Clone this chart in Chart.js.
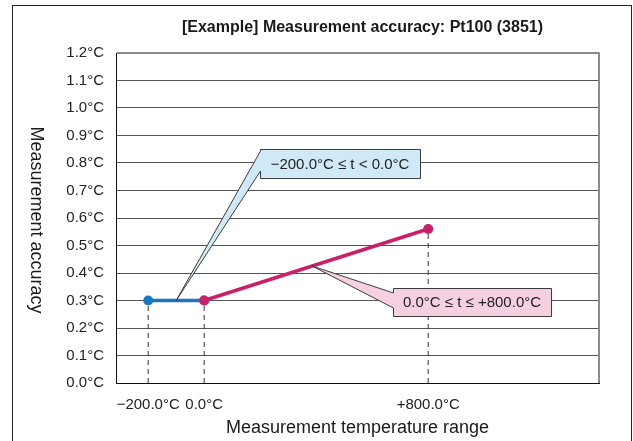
<!DOCTYPE html>
<html>
<head>
<meta charset="utf-8">
<script src="https://cdn.jsdelivr.net/npm/chart.js@4.4.0/dist/chart.umd.min.js"></script>
<style>
  html, body { margin: 0; padding: 0; background: #fff; }
  #wrap { position: relative; width: 633px; height: 441px; overflow: hidden; }
  #frame { position: absolute; left: 12px; top: 5px; width: 618px; height: 470px; border: 1px solid #222; }
  #accChart { position: absolute; left: 0; top: 0; }
</style>
</head>
<body>
<div id="wrap">
  <div id="frame"></div>
  <canvas id="accChart" width="633" height="441"></canvas>
</div>
<script>
// data
var tempTicks = [-200, 0, 800];
var tempLabels = ['\u2212200.0\u00b0C', '0.0\u00b0C', '+800.0\u00b0C'];
var accTicks = [0, 0.1, 0.2, 0.3, 0.4, 0.5, 0.6, 0.7, 0.8, 0.9, 1.0, 1.1, 1.2];

var lowTemp = [-200, 0];      // -200.0 <= t < 0.0
var lowAcc = [0.3, 0.3];
var highTemp = [0, 800];      // 0.0 <= t <= +800.0
var highAcc = [0.3, 0.56];

var FONT = '"Liberation Sans", Arial, Helvetica, sans-serif';
var BLUE = '#1c76bd';
var PINK = '#cc1f6a';

function toPoints(xs, ys) {
    var pts = [];
    for (var i = 0; i < xs.length; i++) pts.push({x: xs[i], y: ys[i]});
    return pts;
}

// dashed drop lines from every end point down to the axis
var dropX = lowTemp.slice(0, 1).concat(highTemp);
var dropY = lowAcc.slice(0, 1).concat(highAcc);
var dropSets = [];
for (var i = 0; i < dropX.length; i++) {
    dropSets.push({
        data: [{x: dropX[i], y: 0}, {x: dropX[i], y: dropY[i]}],
        borderColor: '#333',
        borderWidth: 1,
        borderDash: [5, 4],
        pointRadius: 0,
        order: 3
    });
}

// callout boxes (anchor in data units, box in pixels)
var callouts = [
    {text: '\u2212200.0\u00b0C \u2264 t < 0.0\u00b0C', at: [-100, 0.3], box: [260, 149, 160, 29], tail: [151, 171], fill: '#cfe9f7'},
    {text: '0.0\u00b0C \u2264 t \u2264 +800.0\u00b0C', at: [384, 0.426], box: [393, 288, 158, 28], tail: [293, 308], fill: '#f6d0e1'}
];

var decorPlugin = {
    id: 'decor',
    afterDatasetsDraw: function (chart) {
        var ctx = chart.ctx, ca = chart.chartArea;
        var xs = chart.scales.x, ys = chart.scales.y;
        ctx.save();
        // right border of plot
        ctx.strokeStyle = '#8a8a8a';
        ctx.lineWidth = 2;
        ctx.beginPath();
        ctx.moveTo(ca.right, ca.top - 0.5);
        ctx.lineTo(ca.right, ca.bottom);
        ctx.stroke();

        callouts.forEach(function (c) {
            var ax = xs.getPixelForValue(c.at[0]);
            var ay = ys.getPixelForValue(c.at[1]);
            var b = c.box;
            ctx.beginPath();
            ctx.moveTo(b[0] + 0.5, b[1] + 0.5);
            ctx.lineTo(b[0] + b[2] + 0.5, b[1] + 0.5);
            ctx.lineTo(b[0] + b[2] + 0.5, b[1] + b[3] + 0.5);
            ctx.lineTo(b[0] + 0.5, b[1] + b[3] + 0.5);
            ctx.lineTo(b[0] + 0.5, c.tail[1]);
            ctx.lineTo(ax, ay);
            ctx.lineTo(b[0] + 0.5, c.tail[0]);
            ctx.closePath();
            ctx.fillStyle = c.fill;
            ctx.fill();
            ctx.strokeStyle = '#3c3c3c';
            ctx.lineWidth = 1;
            ctx.stroke();
            ctx.fillStyle = '#222';
            ctx.font = '15px ' + FONT;
            ctx.textAlign = 'center';
            ctx.textBaseline = 'middle';
            ctx.fillText(c.text, b[0] + b[2] / 2, b[1] + b[3] / 2 + 1);
        });

        // titles
        ctx.fillStyle = '#1a1a1a';
        ctx.textAlign = 'center';
        ctx.textBaseline = 'middle';
        ctx.font = 'bold 16px ' + FONT;
        ctx.fillText('[Example] Measurement accuracy: Pt100 (3851)', (ca.left + ca.right) / 2 + 5, 28);
        ctx.font = '18px ' + FONT;
        ctx.fillText('Measurement temperature range', (ca.left + ca.right) / 2, 428);
        ctx.translate(36, (ca.top + ca.bottom) / 2 + 2);
        ctx.rotate(Math.PI / 2);
        ctx.fillText('Measurement accuracy', 0, 0);
        ctx.restore();
    }
};

var ctx = document.getElementById('accChart');
var accChart = new Chart(ctx, {
    type: 'line',
    data: {
        datasets: dropSets.concat([
            {
                data: toPoints(lowTemp, lowAcc),
                borderColor: BLUE,
                backgroundColor: BLUE,
                borderWidth: 3.5,
                pointRadius: 5,
                pointBorderWidth: 0,
                pointBackgroundColor: BLUE,
                order: 2
            },
            {
                data: toPoints(highTemp, highAcc),
                borderColor: PINK,
                backgroundColor: PINK,
                borderWidth: 3.5,
                pointRadius: 5,
                pointBorderWidth: 0,
                pointBackgroundColor: PINK,
                order: 1
            }
        ])
    },
    options: {
        responsive: false,
        animation: false,
        layout: {padding: {top: 53, right: 34, bottom: 0, left: 0}},
        plugins: {legend: {display: false}, tooltip: {enabled: false}, title: {display: false}},
        scales: {
            x: {
                type: 'linear',
                min: -315,
                max: 1410,
                grid: {display: false, drawTicks: false},
                border: {display: true, color: '#111', width: 1},
                afterBuildTicks: function (scale) {
                    scale.ticks = tempTicks.map(function (v) { return {value: v}; });
                },
                afterFit: function (scale) { scale.height = 58; },
                ticks: {
                    padding: 13,
                    color: '#222',
                    font: {family: FONT, size: 15},
                    maxRotation: 0,
                    autoSkip: false,
                    callback: function (v, idx) { return tempLabels[idx]; }
                }
            },
            y: {
                type: 'linear',
                min: 0,
                max: 1.2,
                grid: {
                    drawTicks: false,
                    color: function (c) { return c.tick && c.tick.value === 1.2 ? '#8a8a8a' : '#555'; },
                    lineWidth: function (c) { return c.tick && c.tick.value === 1.2 ? 2 : 1; }
                },
                border: {display: true, color: '#111', width: 1},
                afterBuildTicks: function (scale) {
                    scale.ticks = accTicks.map(function (v) { return {value: v}; });
                },
                afterFit: function (scale) { scale.width = 116; },
                ticks: {
                    padding: 12,
                    color: '#222',
                    font: {family: FONT, size: 15},
                    callback: function (v) { return v.toFixed(1) + '\u00b0C'; }
                }
            }
        }
    },
    plugins: [decorPlugin]
});
</script>
</body>
</html>
